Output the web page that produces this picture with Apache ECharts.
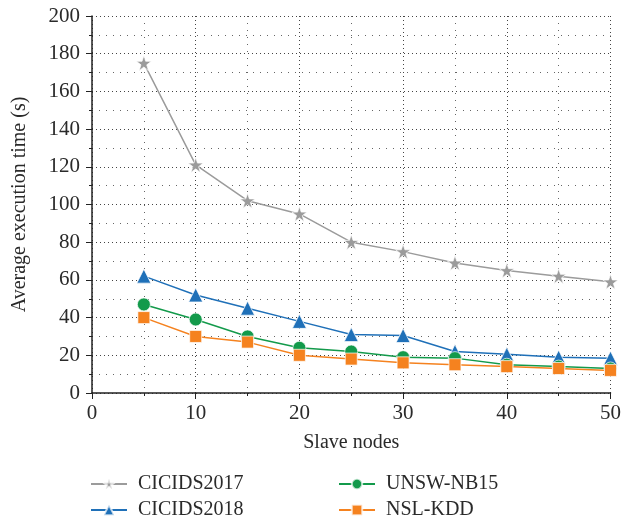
<!DOCTYPE html>
<html>
<head>
<meta charset="utf-8">
<script src="https://cdn.jsdelivr.net/npm/echarts@6/dist/echarts.min.js"></script>
<style>
  html, body { margin: 0; padding: 0; background: #fff; }
  #chart { width: 624px; height: 523px; }
</style>
</head>
<body>
<div id="chart"></div>
<script>
// slave node counts on the x axis
const nodes = [5, 10, 15, 20, 25, 30, 35, 40, 45, 50];

// average execution time (s) per dataset
const cicids2017 = [175, 121, 102, 95, 80, 75, 69, 65, 62, 59];
const cicids2018 = [62, 52, 45, 38, 31, 30.5, 22, 20.5, 19, 18.5];
const unswNb15 = [47, 39, 30, 24, 22, 19, 18.5, 15, 14, 13];
const nslKdd = [40, 30, 27, 20, 18, 16, 15, 14, 13, 12];

const serif = '"Liberation Serif", "DejaVu Serif", serif';
const textColor = '#2a2a2a';

function pairs(values) {
    return nodes.map(function (n, i) { return [n, values[i]]; });
}

function lineSeries(name, values, color, symbol, size) {
    return {
        name: name,
        type: 'line',
        data: pairs(values),
        symbol: symbol,
        symbolSize: size,
        color: color,
        lineStyle: {color: color, width: 1.5},
        itemStyle: {color: color, borderColor: 'rgba(255,255,255,0.7)', borderWidth: 1},
        emphasis: {disabled: true},
        z: 3
    };
}

let chart = echarts.init(document.getElementById('chart'), null, {renderer: 'canvas'});

let legendText = {fontFamily: serif, fontSize: 20, color: textColor, lineHeight: 20, padding: [0, 0, 0, 6]};

function legendAt(left, names) {
    return {
        data: names,
        orient: 'vertical',
        left: left, top: 474,
        height: 49,
        padding: 0,
        itemWidth: 36, itemHeight: 13, itemGap: 6,
        textStyle: legendText
    };
}

chart.setOption({
    animation: false,
    grid: {left: 92, right: 8, top: 16, bottom: 130, containLabel: false},
    legend: [
        legendAt(90, ['CICIDS2017', 'CICIDS2018']),
        legendAt(338, ['UNSW-NB15', 'NSL-KDD'])
    ],
    xAxis: {
        type: 'value',
        min: 0, max: 50, interval: 10,
        name: 'Slave nodes',
        nameLocation: 'middle',
        nameGap: 40,
        nameTextStyle: {fontFamily: serif, fontSize: 20, color: textColor},
        axisLine: {lineStyle: {color: '#222', width: 1.5}},
        axisTick: {show: true, length: 6, lineStyle: {color: '#222'}},
        minorTick: {show: true, splitNumber: 2, length: 3, lineStyle: {color: '#222'}},
        axisLabel: {fontFamily: serif, fontSize: 21, color: textColor, margin: 10},
        splitLine: {show: true, lineStyle: {color: '#444', type: [1, 3], width: 1}},
        minorSplitLine: {show: true, lineStyle: {color: '#666', type: [1, 6], width: 1}}
    },
    yAxis: {
        type: 'value',
        min: 0, max: 200, interval: 20,
        name: 'Average execution time (s)',
        nameLocation: 'middle',
        nameGap: 62,
        nameTextStyle: {fontFamily: serif, fontSize: 20, color: textColor},
        axisLine: {show: true, lineStyle: {color: '#222', width: 1.5}},
        axisTick: {show: true, length: 6, lineStyle: {color: '#222'}},
        minorTick: {show: true, splitNumber: 2, length: 3, lineStyle: {color: '#222'}},
        axisLabel: {fontFamily: serif, fontSize: 21, color: textColor, margin: 12},
        splitLine: {show: true, lineStyle: {color: '#444', type: [1, 3], width: 1}},
        minorSplitLine: {show: true, lineStyle: {color: '#666', type: [1, 6], width: 1}}
    },
    series: [
        lineSeries('CICIDS2017', cicids2017, '#9b9b9b', 'path://M50,0 L61.8,35.1 L98.8,35.1 L68.8,57 L80.3,92.6 L50,70.7 L19.7,92.6 L31.2,57 L1.2,35.1 L38.2,35.1 Z', 15),
        lineSeries('CICIDS2018', cicids2018, '#1f70b8', 'triangle', 14),
        lineSeries('UNSW-NB15', unswNb15, '#139a4b', 'circle', 13),
        lineSeries('NSL-KDD', nslKdd, '#f5821f', 'rect', 12)
    ]
});
</script>
</body>
</html>
